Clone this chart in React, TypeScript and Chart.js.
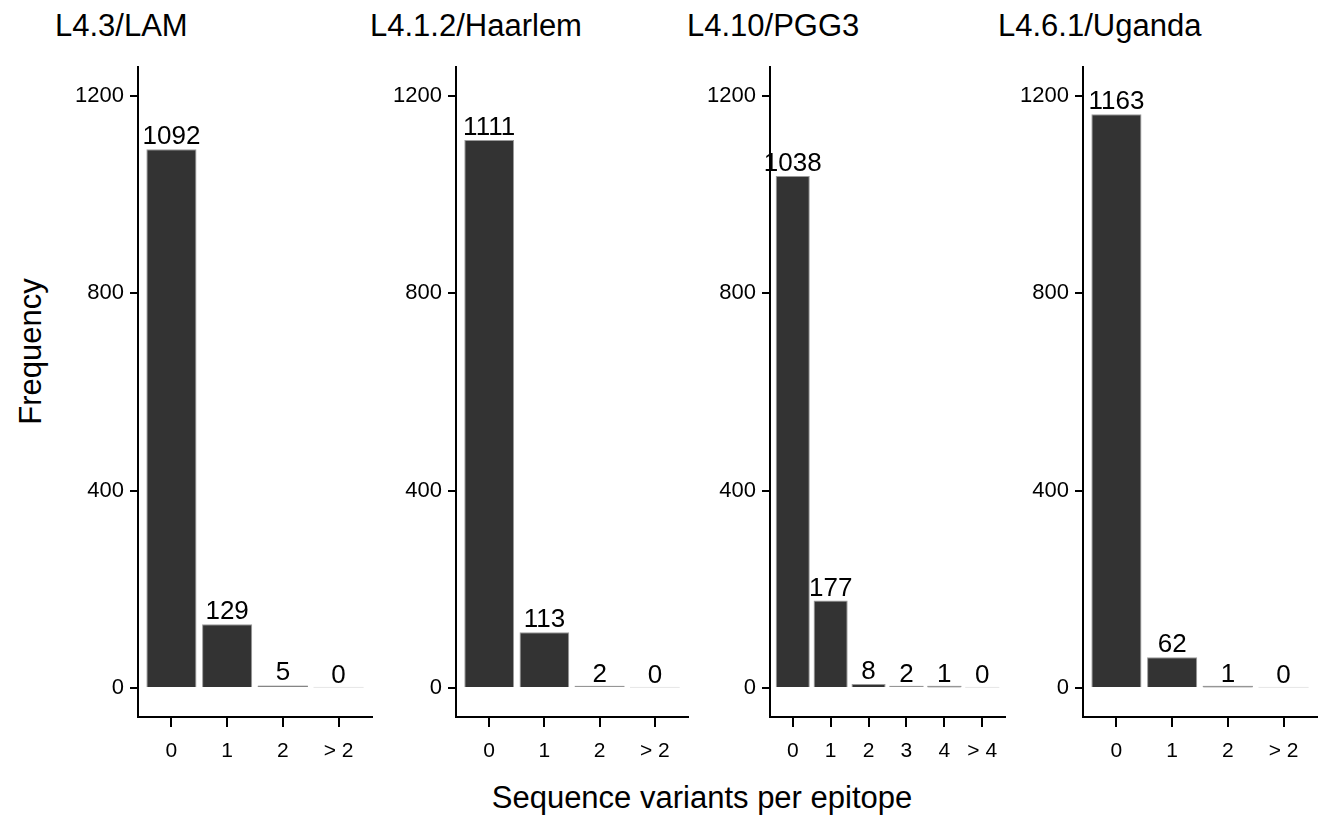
import React, { useEffect, useRef } from "react";
import { Chart, registerables } from "chart.js";

Chart.register(...registerables);

// ---- data ----
const panelTitles = ["L4.3/LAM", "L4.1.2/Haarlem", "L4.10/PGG3", "L4.6.1/Uganda"];
const lamCategories = ["0", "1", "2", "> 2"];
const lamValues = [1092, 129, 5, 0];
const haarlemCategories = ["0", "1", "2", "> 2"];
const haarlemValues = [1111, 113, 2, 0];
const pgg3Categories = ["0", "1", "2", "3", "4", "> 4"];
const pgg3Values = [1038, 177, 8, 2, 1, 0];
const ugandaCategories = ["0", "1", "2", "> 2"];
const ugandaValues = [1163, 62, 1, 0];
const yTickValues = [0, 400, 800, 1200];
const yAxisTitle = "Frequency";
const xAxisTitle = "Sequence variants per epitope";

const panelCategories = [lamCategories, haarlemCategories, pgg3Categories, ugandaCategories];
const panelValues = [lamValues, haarlemValues, pgg3Values, ugandaValues];

// ---- layout (pixels) ----
const FONT = "'Liberation Sans', Arial, Helvetica, sans-serif";
const axisLeft = [138, 456, 770, 1083];
const axisRight = [372, 688, 1005, 1317];
const titleLeft = [55, 370, 687, 998];
const Y_AXIS_W = 80;
const PLOT_TOP = 67;
const PLOT_BOTTOM = 717;
const CANVAS_TOP = 60;
const X_AXIS_H = 60;

const valueLabelPlugin = {
  id: "valueLabels",
  afterDatasetsDraw(chart: any) {
    const vals: number[] = chart.config.options.plugins.valueLabels.values;
    const meta = chart.getDatasetMeta(0);
    const ctx = chart.ctx;
    ctx.save();
    meta.data.forEach((bar: any, i: number) => {
      const p = bar.getProps(["x", "y", "base", "width"], true);
      const v = vals[i];
      const h = Math.abs(p.base - p.y);
      if (h < 2) {
        ctx.strokeStyle = v === 0 ? "#e6e6e6" : "#8a8a8a";
        ctx.lineWidth = 1;
        ctx.beginPath();
        ctx.moveTo(p.x - p.width / 2, p.base - 0.5);
        ctx.lineTo(p.x + p.width / 2, p.base - 0.5);
        ctx.stroke();
      }
      ctx.fillStyle = "#000";
      ctx.font = `26px ${FONT}`;
      ctx.textAlign = "center";
      ctx.textBaseline = "alphabetic";
      ctx.fillText(String(v), p.x, Math.min(p.y, p.base) - 5);
    });
    ctx.restore();
  },
};

function Panel({ idx }: { idx: number }) {
  const ref = useRef<HTMLCanvasElement | null>(null);
  const cats = panelCategories[idx];
  const vals = panelValues[idx];
  const areaW = axisRight[idx] - axisLeft[idx];
  const width = Y_AXIS_W + areaW + 6;
  const padTop = PLOT_TOP - CANVAS_TOP;
  const height = padTop + (PLOT_BOTTOM - PLOT_TOP) + X_AXIS_H;

  useEffect(() => {
    if (!ref.current) return;
    const chart = new Chart(ref.current, {
      type: "bar",
      data: {
        datasets: [
          {
            data: cats.map((_, i) => ({ x: i, y: vals[i] })),
            backgroundColor: "#333333",
            borderColor: "#9a9a9a",
            borderWidth: 1,
            barPercentage: 0.9,
            categoryPercentage: 1,
          } as any,
        ],
      },
      options: {
        animation: false,
        responsive: false,
        devicePixelRatio: 1,
        layout: { padding: { top: padTop, right: 6, left: 0, bottom: 0 } },
        plugins: {
          legend: { display: false },
          tooltip: { enabled: false },
          valueLabels: { values: vals },
        } as any,
        scales: {
          x: {
            type: "linear",
            min: -0.6,
            max: cats.length - 1 + 0.6,
            offset: false,
            grid: {
              display: true,
              drawOnChartArea: false,
              drawTicks: true,
              tickLength: 10,
              color: "#000",
              lineWidth: 2,
              offset: false,
            },
            border: { display: true, color: "#000", width: 2 },
            ticks: {
              color: "#000",
              font: { family: FONT, size: 21 },
              padding: 12,
              autoSkip: false,
              maxRotation: 0,
              callback: (v: any) => cats[v as number] ?? "",
            },
            afterBuildTicks: (s: any) => {
              s.ticks = cats.map((_, i) => ({ value: i }));
            },
            afterFit: (s: any) => {
              s.height = X_AXIS_H;
              s.paddingLeft = 0;
              s.paddingRight = 0;
            },
          },
          y: {
            type: "linear",
            min: -59,
            max: 1259,
            grid: {
              display: true,
              drawOnChartArea: false,
              drawTicks: true,
              tickLength: 8,
              color: "#000",
              lineWidth: 2,
            },
            border: { display: true, color: "#000", width: 2 },
            ticks: {
              color: "#000",
              font: { family: FONT, size: 22 },
              padding: 6,
              callback: (v: any) => String(v),
            },
            afterBuildTicks: (s: any) => {
              s.ticks = yTickValues.map((v) => ({ value: v }));
            },
            afterFit: (s: any) => {
              s.width = Y_AXIS_W;
              s.paddingTop = 0;
              s.paddingBottom = 0;
            },
          },
        },
      } as any,
      plugins: [valueLabelPlugin],
    });
    return () => chart.destroy();
  }, []);

  return (
    <canvas
      ref={ref}
      width={width}
      height={height}
      style={{
        position: "absolute",
        left: axisLeft[idx] - Y_AXIS_W,
        top: CANVAS_TOP,
        width,
        height,
      }}
    />
  );
}

export default function App() {
  return (
    <div
      style={{
        position: "absolute",
        left: 0,
        top: 0,
        width: 1323,
        height: 818,
        background: "#fff",
        fontFamily: FONT,
        color: "#000",
        overflow: "hidden",
      }}
    >
      {panelTitles.map((t, i) => (
        <div
          key={t}
          style={{
            position: "absolute",
            left: titleLeft[i],
            top: 10,
            fontSize: 31,
            lineHeight: "31px",
            whiteSpace: "nowrap",
          }}
        >
          {t}
        </div>
      ))}
      {panelTitles.map((t, i) => (
        <Panel key={"p" + t} idx={i} />
      ))}
      <div
        style={{
          position: "absolute",
          left: -70,
          top: 336,
          width: 200,
          height: 31,
          fontSize: 31,
          lineHeight: "31px",
          textAlign: "center",
          transform: "rotate(-90deg)",
          whiteSpace: "nowrap",
        }}
      >
        {yAxisTitle}
      </div>
      <div
        style={{
          position: "absolute",
          left: 402,
          top: 782,
          width: 600,
          fontSize: 31,
          lineHeight: "31px",
          textAlign: "center",
          whiteSpace: "nowrap",
        }}
      >
        {xAxisTitle}
      </div>
    </div>
  );
}
